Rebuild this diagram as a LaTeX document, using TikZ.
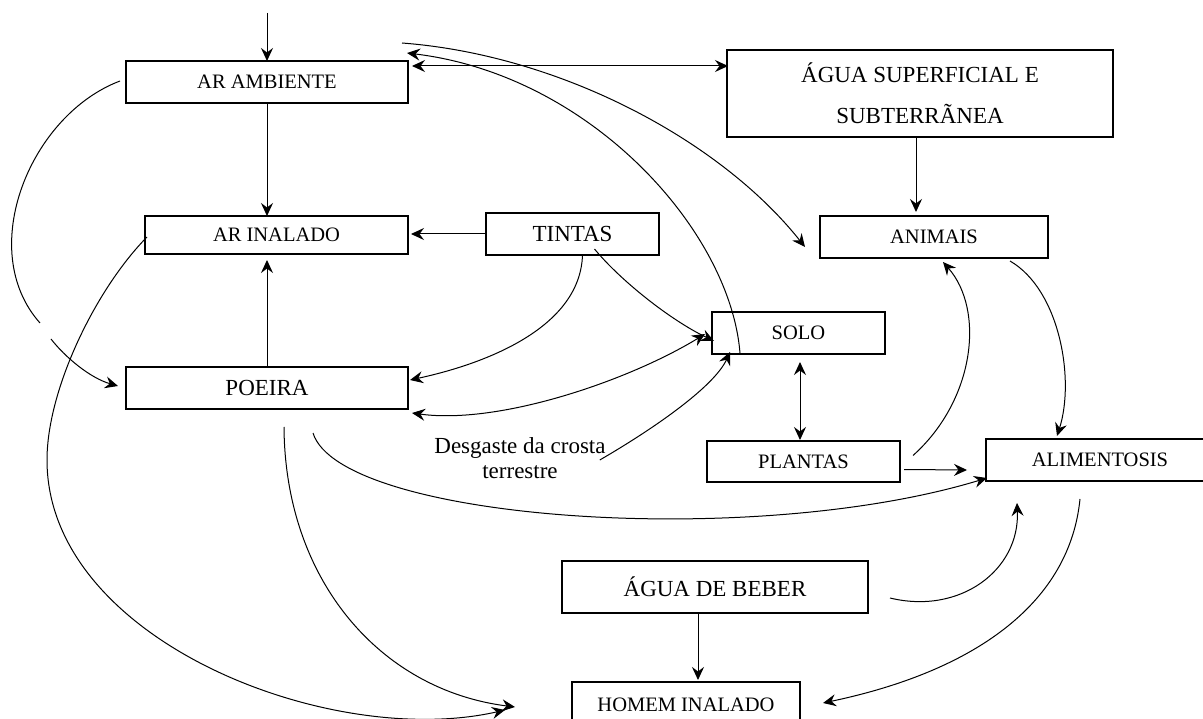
\documentclass[tikz,border=0pt]{standalone}
\usepackage{fontspec}
\setmainfont{Liberation Serif}
\usetikzlibrary{arrows.meta,calc}
\newcommand\smf{\fontsize{20.5pt}{24pt}\selectfont}
\newcommand\bgf{\fontsize{23pt}{26pt}\selectfont}
\begin{document}
\begin{tikzpicture}[x=1pt,y=-1pt,
  box/.style={draw, line width=1.8pt, inner sep=0pt, outer sep=0pt, align=center},
  con/.style={line width=1pt},
  arr/.style={con, -{Stealth[length=13pt,width=12pt,inset=4.5pt]}},
  darr/.style={con, {Stealth[length=13pt,width=12pt,inset=4.5pt]}-{Stealth[length=13pt,width=12pt,inset=4.5pt]}}]
\useasboundingbox (0,0) rectangle (1203,719);
\clip (0,0) rectangle (1203,719);
\fill[white] (0,0) rectangle (1203,719);
% nodes
\node[box, font=\smf, minimum width=282, minimum height=42] (arA) at (267,82) {AR AMBIENTE};
\node[box, font=\smf, minimum width=263, minimum height=38] (arI) at (276.5,235) {AR INALADO};
\node[box, font=\bgf, minimum width=173, minimum height=42] (tin) at (572.5,234) {TINTAS};
\node[box, font=\fontsize{23pt}{41pt}\selectfont, minimum width=386, minimum height=87] (agS) at (920,93.5) {ÁGUA SUPERFICIAL E\\SUBTERRÃNEA};
\node[box, font=\smf, minimum width=228, minimum height=42] (ani) at (934,237) {ANIMAIS};
\node[box, font=\smf, minimum width=173, minimum height=42] (solo) at (798.5,333) {SOLO};
\node[box, font=\bgf, minimum width=282, minimum height=42] (poe) at (267,388) {POEIRA};
\node[box, font=\smf, minimum width=193, minimum height=41] (pla) at (803.5,461.5) {PLANTAS};
\node[box, font=\smf, minimum width=228, minimum height=42] (ali) at (1100,460) {ALIMENTOSIS};
\node[box, font=\bgf, minimum width=306, minimum height=52] (agB) at (715,587) {ÁGUA DE BEBER};
\node[box, font=\smf, minimum width=228, minimum height=46] (hom) at (686,705) {HOMEM INALADO};
\node[inner sep=0pt, align=center, font=\fontsize{23pt}{25pt}\selectfont] (desg) at (520,458) {Desgaste da crosta\\terrestre};
\coordinate (topin) at (267,13);
\coordinate (gapA) at (40,323);
\coordinate (gapB) at (51,339);
\coordinate (bend) at (47,460);
% straight connectors
\draw[arr] (topin) -- (arA.north);
\draw[arr] (arA.south) -- (arA.south |- arI.north);
\draw[arr] (tin.west) -- ($(tin.west -| arI.east)+(3,0)$);
\draw[arr] (poe.north) -- ($(poe.north |- arI.south)+(0,6)$);
\draw[darr] ($(arA.north east)+(4,5)$) -- ($(agS.north west)+(1,16)$);
\draw[arr] ($(agS.south)+(-4,0)$) -- ($(ani.north)+(-18,-4)$);
\draw[darr] ($(solo.south)+(1.5,8)$) -- ($(pla.north)+(-3.5,-1)$);
\draw[arr] ($(pla.east)+(4,8)$) -- ($(ali.west)+(-19,10)$);
\draw[arr] ($(agB.south)+(-17,0)$) -- ($(hom.north)+(12,-2)$);
% curved connectors
\draw[arr] ($(solo.south west)+(28,-1)$) .. controls (730,230) and (590,75) .. ($(arA.north east)+(-1,-8)$);
\draw[arr] ($(arA.north east)+(-6,-18)$) .. controls (560,55) and (720,140) .. ($(ani.west)+(-15,10)$);
\draw[con] ($(arA.west)+(-6,-1)$) .. controls (30,115) and (-25,250) .. (gapA);
\draw[arr] (gapB) .. controls (65,357) and (90,378) .. ($(poe.west)+(-8,-2)$);
\draw[arr] ($(arI.west)+(2,2)$) .. controls (95,290) and (47,390) .. (bend) .. controls (47,640) and (330,750) .. ($(hom.west)+(-67,5)$);
\draw[arr] ($(poe.south)+(17,18)$) .. controls (285,580) and (380,690) .. ($(hom.west)+(-57,2)$);
\draw[arr] ($(poe.south)+(46,24)$) .. controls (340,520) and (750,550) .. ($(ali.south west)+(1,-3)$);
\draw[arr] ($(tin.south)+(10,0)$) .. controls (580,330) and (480,365) .. ($(poe.east)+(2,-8)$);
\draw[arr] ($(tin.south)+(22,-6)$) .. controls (620,280) and (670,320) .. ($(solo.west)+(2,8)$);
\draw[darr] ($(poe.south east)+(4,4)$) .. controls (500,425) and (630,380) .. ($(solo.west)+(-7,1)$);
\draw[arr] ($(desg.east)+(-6,2)$) .. controls (660,425) and (715,385) .. ($(solo.south west)+(18,-2)$);
\draw[arr] ($(pla.east)+(13,-6)$) .. controls (975,400) and (985,310) .. ($(ani.south)+(9,4)$);
\draw[arr] ($(ani.south east)+(-38,3)$) .. controls (1060,290) and (1075,380) .. ($(ali.north west)+(71,-3)$);
\draw[arr] ($(agB.east)+(22,11)$) .. controls (960,615) and (1020,570) .. ($(ali.south west)+(31,22)$);
\draw[arr] ($(ali.south)+(-20,18)$) .. controls (1070,600) and (980,670) .. ($(hom.east)+(23,-2)$);
\end{tikzpicture}
\end{document}
